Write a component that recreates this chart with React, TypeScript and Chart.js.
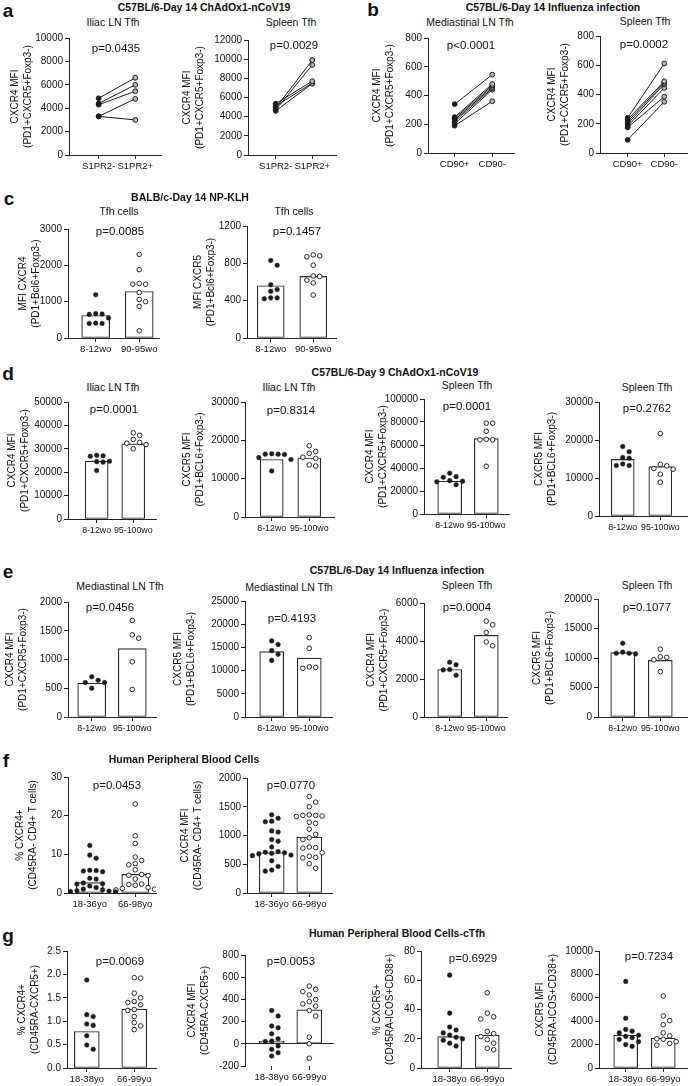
import React, { useEffect, useRef } from 'react';
import { Chart, registerables } from 'chart.js';

Chart.register(...registerables);

const FONT = '"Liberation Sans", Arial, Helvetica, sans-serif';

// ---------------- DATA ----------------
// a: C57BL/6 Day 14 ChAdOx1-nCoV19 (paired)
const s1prCats = ['S1PR2-', 'S1PR2+'];
const a1Neg = [4850, 4400, 4300, 3300, 3300];
const a1Pos = [6600, 6000, 5450, 4800, 3000];
const a2Neg = [4900, 4700, 5350, 5100, 4600];
const a2Pos = [9900, 9400, 7700, 7500, 7450];

// b: Influenza (paired)
const cd90Cats = ['CD90+', 'CD90-'];
const b1Pos = [340, 250, 240, 230, 220, 205, 190];
const b1Neg = [545, 480, 470, 460, 450, 440, 360];
const b2Pos = [240, 230, 215, 200, 185, 175, 90];
const b2Neg = [612, 490, 480, 470, 445, 385, 350];

// c: BALB/c NP-KLH
const cCats = ['8-12wo', '90-95wo'];
const c1Young = [1190, 670, 660, 650, 550, 410, 400, 400];
const c1Old = [2300, 1880, 1500, 1480, 1480, 1250, 1060, 1000, 870, 200];
const c1Bars = [620, 1280];
const c2Young = [830, 780, 570, 520, 500, 430, 430, 420];
const c2Old = [890, 870, 880, 780, 665, 660, 620, 590, 460];
const c2Bars = [560, 660];

// d: Day 9 ChAdOx1-nCoV19
const dCats = ['8-12wo', '95-100wo'];
const d1Young = [27200, 26800, 27000, 24700, 24300, 24500, 20700];
const d1Old = [36800, 35800, 34000, 32700, 32400, 31800, 30000];
const d1Bars = [24700, 32100];
const d2Young = [16500, 16400, 16300, 16400, 15500, 15000, 12000];
const d2Old = [18600, 17100, 16600, 15600, 15300, 13600, 13300];
const d2Bars = [15000, 15400];
const d3Young = [35500, 32500, 32000, 29000, 28500, 28000, 25500];
const d3Old = [79000, 79000, 72000, 65000, 64500, 64500, 41500];
const d3Bars = [28500, 65500];
const d4Young = [18300, 16900, 15400, 15200, 13700, 13300, 13300];
const d4Old = [21700, 13600, 13200, 12500, 12300, 11000, 8900];
const d4Bars = [14900, 13000];

// e: Day 14 Influenza
const e1Young = [700, 640, 600, 600, 500];
const e1Old = [1680, 1430, 1370, 960, 480];
const e1Bars = [590, 1190];
const e2Young = [16400, 15600, 14300, 13500, 12200];
const e2Old = [17100, 14800, 10800, 10500, 10700];
const e2Bars = [14100, 12700];
const e3Young = [2880, 2750, 2500, 2480, 2200];
const e3Old = [5050, 4850, 4450, 3950, 3750];
const e3Bars = [2500, 4300];
const e4Young = [12500, 11000, 10800, 10700, 10800];
const e4Old = [11500, 10200, 10100, 9700, 7700];
const e4Bars = [10900, 9600];

// f: Human peripheral blood
const fCats = ['18-36yo', '66-98yo'];
const f1Young = [12.3, 9.8, 9.0, 5.9, 5.8, 5.7, 5.5, 3.8, 3.6, 2.6, 2.4, 2.3, 1.8, 1.4, 1.0, 0.8, 0.6, 0.5, 0.4, 0.3];
const f1Old = [23, 14.8, 12.8, 9.3, 8.4, 7.6, 7.3, 6.0, 4.8, 4.6, 4.5, 3.6, 2.3, 2.2, 2.0, 1.4, 1.2, 1.0, 0.8];
const f1Bars = [2.7, 4.8];
const f2Young = [1360, 1300, 1250, 1240, 1080, 1060, 930, 900, 800, 720, 710, 700, 690, 680, 660, 650, 560, 460, 400, 380];
const f2Old = [1680, 1580, 1500, 1360, 1350, 1350, 1340, 1330, 1230, 1210, 1110, 1020, 960, 930, 800, 790, 780, 700, 640, 620, 610, 510, 430];
const f2Bars = [700, 970];

// g: Human peripheral blood cTfh
const gCats = ['18-38yo', '66-99yo'];
const g1Young = [1.88, 1.14, 1.10, 0.94, 0.91, 0.69, 0.49, 0.40];
const g1Old = [1.93, 1.92, 1.60, 1.50, 1.42, 1.40, 1.35, 1.25, 1.23, 1.10, 0.97, 0.90, 0.82];
const g1Bars = [0.78, 1.26];
const g2Young = [300, 250, 160, 145, 90, 45, 25, 20, -20, -50, -80, -110];
const g2Old = [520, 490, 470, 440, 400, 380, 360, 340, 300, 250, 60, 0, -130];
const g2Bars = [25, 305];
const g3Young = [63.5, 37.5, 28, 26, 24, 22.5, 21, 20, 19, 17, 15];
const g3Old = [51.5, 37.5, 35, 33.5, 25, 23.5, 21.5, 19.5, 17, 13.5, 12.5];
const g3Bars = [21.5, 22.5];
const g4Young = [7400, 4250, 3300, 3150, 3000, 2800, 2700, 2600, 2450, 2250, 2000, 1850];
const g4Old = [6150, 4450, 4050, 3700, 3000, 2750, 2500, 2450, 2250, 2100, 1950];
const g4Bars = [2800, 2550];

// ---------------- LAYOUT ----------------
type Geo = { axisL: number; axisR: number; yTop: number; yBot: number; cat0: number; cat1: number; titleX: number };
type Spec = {
  geo: Geo;
  yMin: number; yMax: number; yStep: number; dec?: number;
  yTitle: string[];
  cats: string[];
  catSize?: number;
  left: number[]; right: number[];
  bars?: number[];
  barW?: number;
  zero?: boolean;
  p: string; px: number; py: number;
};

const T_CXCR4 = ['CXCR4 MFI', '(PD1+CXCR5+Foxp3-)'];
const T_CXCR5 = ['CXCR5 MFI', '(PD1+BCL6+Foxp3-)'];

const specs: Spec[] = [
  { geo: { axisL: 69, axisR: 162, yTop: 38, yBot: 155, cat0: 99, cat1: 136, titleX: 15 }, yMin: 0, yMax: 10000, yStep: 2000, yTitle: T_CXCR4, cats: s1prCats, left: a1Neg, right: a1Pos, p: 'p=0.0435', px: 116, py: 49 },
  { geo: { axisL: 248, axisR: 337, yTop: 40, yBot: 155, cat0: 276, cat1: 313, titleX: 187 }, yMin: 0, yMax: 12000, yStep: 2000, yTitle: T_CXCR4, cats: s1prCats, left: a2Neg, right: a2Pos, p: 'p=0.0029', px: 294, py: 46 },
  { geo: { axisL: 428, axisR: 515, yTop: 38, yBot: 153, cat0: 455, cat1: 493, titleX: 377 }, yMin: 0, yMax: 800, yStep: 200, yTitle: T_CXCR4, cats: cd90Cats, left: b1Pos, right: b1Neg, p: 'p<0.0001', px: 471, py: 46 },
  { geo: { axisL: 600, axisR: 688, yTop: 36, yBot: 153, cat0: 628, cat1: 665, titleX: 552 }, yMin: 0, yMax: 800, yStep: 200, yTitle: T_CXCR4, cats: cd90Cats, left: b2Pos, right: b2Neg, p: 'p=0.0002', px: 644, py: 45 },

  { geo: { axisL: 68, axisR: 160, yTop: 229, yBot: 338, cat0: 96, cat1: 140, titleX: 23 }, yMin: 0, yMax: 3000, yStep: 1000, yTitle: ['MFI CXCR4', '(PD1+Bcl6+Foxp3-)'], cats: cCats, left: c1Young, right: c1Old, bars: c1Bars, barW: 28, p: 'p=0.0085', px: 120, py: 232 },
  { geo: { axisL: 247, axisR: 337, yTop: 226, yBot: 338, cat0: 271, cat1: 314, titleX: 198 }, yMin: 0, yMax: 1200, yStep: 400, yTitle: ['MFI CXCR5', '(PD1+Bcl6+Foxp3-)'], cats: cCats, left: c2Young, right: c2Old, bars: c2Bars, barW: 27, p: 'p=0.1457', px: 297, py: 232 },

  { geo: { axisL: 68, axisR: 157, yTop: 402, yBot: 519, cat0: 97, cat1: 134, titleX: 12 }, yMin: 0, yMax: 50000, yStep: 10000, yTitle: T_CXCR4, cats: dCats, catSize: 8.8, left: d1Young, right: d1Old, bars: d1Bars, barW: 23, p: 'p=0.0001', px: 114, py: 410 },
  { geo: { axisL: 245, axisR: 335, yTop: 402, yBot: 517, cat0: 272, cat1: 310, titleX: 187 }, yMin: 0, yMax: 30000, yStep: 10000, yTitle: T_CXCR5, cats: dCats, catSize: 8.8, left: d2Young, right: d2Old, bars: d2Bars, barW: 23, p: 'p=0.8314', px: 291, py: 411 },
  { geo: { axisL: 424, axisR: 510, yTop: 399, yBot: 514, cat0: 450, cat1: 487, titleX: 370 }, yMin: 0, yMax: 100000, yStep: 20000, yTitle: T_CXCR4, cats: dCats, catSize: 8.8, left: d3Young, right: d3Old, bars: d3Bars, barW: 24, p: 'p=0.0001', px: 467, py: 407 },
  { geo: { axisL: 599, axisR: 688, yTop: 402, yBot: 516, cat0: 623, cat1: 661, titleX: 539 }, yMin: 0, yMax: 30000, yStep: 10000, yTitle: T_CXCR5, cats: dCats, catSize: 8.8, left: d4Young, right: d4Old, bars: d4Bars, barW: 23, p: 'p=0.2762', px: 647, py: 409 },

  { geo: { axisL: 68, axisR: 157, yTop: 602, yBot: 717, cat0: 92, cat1: 133, titleX: 10 }, yMin: 0, yMax: 2000, yStep: 500, yTitle: T_CXCR4, cats: dCats, catSize: 8.8, left: e1Young, right: e1Old, bars: e1Bars, barW: 28, p: 'p=0.0456', px: 110, py: 608 },
  { geo: { axisL: 245, axisR: 333, yTop: 601, yBot: 717, cat0: 272, cat1: 310, titleX: 178 }, yMin: 0, yMax: 25000, yStep: 5000, yTitle: T_CXCR5, cats: dCats, catSize: 8.8, left: e2Young, right: e2Old, bars: e2Bars, barW: 24, p: 'p=0.4193', px: 292, py: 619 },
  { geo: { axisL: 424, axisR: 508, yTop: 603, yBot: 717, cat0: 450, cat1: 487, titleX: 371 }, yMin: 0, yMax: 6000, yStep: 2000, yTitle: T_CXCR4, cats: dCats, catSize: 8.8, left: e3Young, right: e3Old, bars: e3Bars, barW: 24, p: 'p=0.0004', px: 467, py: 608 },
  { geo: { axisL: 598, axisR: 688, yTop: 599, yBot: 717, cat0: 623, cat1: 661, titleX: 537 }, yMin: 0, yMax: 20000, yStep: 5000, yTitle: T_CXCR5, cats: dCats, catSize: 8.8, left: e4Young, right: e4Old, bars: e4Bars, barW: 24, p: 'p=0.1077', px: 647, py: 608 },

  { geo: { axisL: 68, axisR: 157, yTop: 777, yBot: 893, cat0: 90, cat1: 136, titleX: 20 }, yMin: 0, yMax: 30, yStep: 10, yTitle: ['% CXCR4+', '(CD45RA- CD4+ T cells)'], cats: fCats, left: f1Young, right: f1Old, bars: f1Bars, barW: 27, p: 'p=0.0453', px: 117, py: 786 },
  { geo: { axisL: 247, axisR: 333, yTop: 778, yBot: 893, cat0: 272, cat1: 310, titleX: 185 }, yMin: 0, yMax: 2000, yStep: 500, yTitle: ['CXCR4 MFI', '(CD45RA- CD4+ T cells)'], cats: fCats, left: f2Young, right: f2Old, bars: f2Bars, barW: 25, p: 'p=0.0770', px: 291, py: 786 },

  { geo: { axisL: 67, axisR: 157, yTop: 951, yBot: 1068, cat0: 87, cat1: 135, titleX: 22 }, yMin: 0, yMax: 2.5, yStep: 0.5, dec: 1, yTitle: ['% CXCR4+', '(CD45RA-CXCR5+)'], cats: gCats, left: g1Young, right: g1Old, bars: g1Bars, barW: 25, p: 'p=0.0069', px: 120, py: 962 },
  { geo: { axisL: 245, axisR: 335, yTop: 955, yBot: 1066, cat0: 272, cat1: 310, titleX: 192 }, yMin: -200, yMax: 800, yStep: 200, zero: true, yTitle: ['CXCR4 MFI', '(CD45RA-CXCR5+)'], cats: gCats, left: g2Young, right: g2Old, bars: g2Bars, barW: 25, p: 'p=0.0053', px: 291, py: 962 },
  { geo: { axisL: 421, axisR: 512, yTop: 951, yBot: 1068, cat0: 450, cat1: 488, titleX: 377 }, yMin: 0, yMax: 80, yStep: 20, yTitle: ['% CXCR5+', '(CD45RA-ICOS+CD38+)'], cats: gCats, left: g3Young, right: g3Old, bars: g3Bars, barW: 24, p: 'p=0.6929', px: 473, py: 959 },
  { geo: { axisL: 599, axisR: 688, yTop: 951, yBot: 1068, cat0: 626, cat1: 664, titleX: 540 }, yMin: 0, yMax: 10000, yStep: 2000, yTitle: ['CXCR5 MFI', '(CD45RA-ICOS+CD38+)'], cats: gCats, left: g4Young, right: g4Old, bars: g4Bars, barW: 24, p: 'p=0.7234', px: 649, py: 957 },
];

const letters: [string, number, number][] = [
  ['a', 8, 10], ['b', 373, 9], ['c', 9, 198], ['d', 8, 373], ['e', 8, 571], ['f', 6, 760], ['g', 8, 935],
];
const panelTitles: [string, number, number][] = [
  ['C57BL/6-Day 14 ChAdOx1-nCoV19', 204, 7],
  ['C57BL/6-Day 14 Influenza infection', 553, 7],
  ['BALB/c-Day 14 NP-KLH', 190, 197],
  ['C57BL/6-Day 9 ChAdOx1-nCoV19', 395, 372],
  ['C57BL/6-Day 14 Influenza infection', 397, 570],
  ['Human Peripheral Blood Cells', 184, 759],
  ['Human Peripheral Blood Cells-cTfh', 397, 933],
];
const subTitles: [string, number, number][] = [
  ['Iliac LN Tfh', 113, 22], ['Spleen Tfh', 291, 22], ['Mediastinal LN Tfh', 470, 22], ['Spleen Tfh', 645, 21],
  ['Tfh cells', 119, 211], ['Tfh cells', 294, 211],
  ['Iliac LN Tfh', 113, 387], ['Iliac LN Tfh', 289, 387], ['Spleen Tfh', 467, 385], ['Spleen Tfh', 647, 387],
  ['Mediastinal LN Tfh', 120, 586], ['Mediastinal LN Tfh', 289, 587], ['Spleen Tfh', 467, 585], ['Spleen Tfh', 647, 585],
];

// Beeswarm-style horizontal offsets (px) so dots of similar value do not overlap
function swarm(vals: number[], pxPerUnit: number, step: number, minDist: number): number[] {
  const order = vals.map((_, i) => i).sort((a, b) => vals[b] - vals[a]);
  const placed: { x: number; y: number }[] = [];
  const out = new Array(vals.length).fill(0);
  for (const i of order) {
    const y = vals[i] * pxPerUnit;
    for (let k = 0; k < 60; k++) {
      const off = k === 0 ? 0 : (k % 2 ? 1 : -1) * Math.ceil(k / 2) * step;
      if (placed.every((p) => Math.hypot(p.x - off, p.y - y) >= minDist)) {
        out[i] = off;
        placed.push({ x: off, y });
        break;
      }
    }
  }
  return out;
}

const INK = '#1c1c1c';
const TITLE_LH = 12.5;

function Plot({ s }: { s: Spec }) {
  const ref = useRef<HTMLCanvasElement | null>(null);
  const g = s.geo;
  const padTop = 8;
  const padRight = 4;
  const xH = 22;
  const cLeft = Math.round(g.titleX - TITLE_LH / 2);
  const cTop = Math.round(g.yTop) - padTop;
  const width = Math.round(g.axisR) + padRight - cLeft;
  const height = Math.round(g.yBot) + xH - cTop;
  const yW = Math.round(g.axisL) - cLeft;

  useEffect(() => {
    const canvas = ref.current;
    if (!canvas) return;
    const unit = g.cat1 - g.cat0;
    const xMin = -(g.cat0 - g.axisL) / unit;
    const xMax = 1 + (g.axisR - g.cat1) / unit;
    const pxPerY = (g.yBot - g.yTop) / (s.yMax - s.yMin);
    const datasets: any[] = [];
    if (s.bars) {
      const offL = swarm(s.left, pxPerY, 6.5, 6);
      const offR = swarm(s.right, pxPerY, 6.5, 6);
      datasets.push({
        type: 'scatter', order: 1,
        data: s.left.map((v, i) => ({ x: offL[i] / unit, y: v })),
        pointRadius: 2.3, pointBackgroundColor: INK, pointBorderColor: INK, pointBorderWidth: 0.5,
      });
      datasets.push({
        type: 'scatter', order: 1,
        data: s.right.map((v, i) => ({ x: 1 + offR[i] / unit, y: v })),
        pointRadius: 2.3, pointBackgroundColor: '#ffffff', pointBorderColor: '#2a2a2a', pointBorderWidth: 1,
      });
      datasets.push({
        type: 'bar', order: 5,
        data: [{ x: 0, y: s.bars[0] }, { x: 1, y: s.bars[1] }],
        barThickness: s.barW, backgroundColor: '#ffffff', borderColor: '#2a2a2a', borderWidth: 1.2, borderSkipped: false,
      });
    } else {
      s.left.forEach((l, i) => {
        datasets.push({
          type: 'line',
          data: [{ x: 0, y: l }, { x: 1, y: s.right[i] }],
          borderColor: INK, borderWidth: 1,
          pointRadius: 2.4,
          pointBackgroundColor: [INK, '#b5b5b5'],
          pointBorderColor: INK, pointBorderWidth: 1,
        });
      });
    }

    const chart = new Chart(canvas, {
      type: 'scatter',
      data: { datasets },
      options: {
        animation: false,
        responsive: false,
        events: [],
        layout: { padding: { top: padTop, right: padRight, left: 0, bottom: 0 } },
        plugins: { legend: { display: false }, tooltip: { enabled: false }, title: { display: false } },
        scales: {
          x: {
            type: 'linear', min: xMin, max: xMax, offset: false,
            afterBuildTicks: (sc: any) => { sc.ticks = [{ value: 0 }, { value: 1 }]; },
            afterFit: (sc: any) => { sc.height = xH; },
            ticks: {
              callback: (v: any) => s.cats[v] ?? '',
              font: { family: FONT, size: s.catSize ?? 9.5 }, color: '#111', padding: 2, maxRotation: 0, autoSkip: false,
            },
            grid: { display: true, offset: false, drawOnChartArea: false, drawTicks: true, tickLength: 4, color: '#222', lineWidth: 1 },
            border: { display: !s.zero, color: '#222', width: 1 },
          },
          y: {
            type: 'linear', min: s.yMin, max: s.yMax, offset: false,
            afterFit: (sc: any) => { sc.width = yW; },
            ticks: {
              stepSize: s.yStep,
              callback: (v: any) => (s.dec ? Number(v).toFixed(s.dec) : String(Math.round(Number(v)))),
              font: { family: FONT, size: 10 }, color: '#111', padding: 2,
            },
            grid: {
              display: true,
              offset: false,
              drawOnChartArea: !!s.zero,
              drawTicks: true, tickLength: 4,
              color: (ctx: any) => (ctx.tick && ctx.tick.value === 0 ? '#222' : 'rgba(0,0,0,0)'),
              tickColor: '#222', lineWidth: 1,
            },
            border: { display: true, color: '#222', width: 1 },
            title: {
              display: true, text: s.yTitle,
              font: { family: FONT, size: 10, lineHeight: TITLE_LH / 10 }, color: '#111', padding: 0,
            },
          },
        },
      } as any,
    } as any);
    return () => chart.destroy();
  }, []);

  return (
    <canvas
      ref={ref}
      width={width}
      height={height}
      style={{ position: 'absolute', left: cLeft, top: cTop, width, height }}
    />
  );
}

function Label({ text, x, y, size, bold }: { text: string; x: number; y: number; size: number; bold?: boolean }) {
  return (
    <div
      style={{
        position: 'absolute', left: x, top: y, transform: 'translate(-50%, -50%)',
        whiteSpace: 'nowrap', fontFamily: FONT, fontSize: size, fontWeight: bold ? 700 : 400,
        color: '#111', lineHeight: 1,
      }}
    >
      {text}
    </div>
  );
}

export default function App() {
  return (
    <div style={{ position: 'absolute', left: 0, top: 0, width: 691, height: 1086, background: '#fff', overflow: 'hidden' }}>
      {specs.map((s, i) => <Plot key={i} s={s} />)}
      {specs.map((s, i) => <Label key={'p' + i} text={s.p} x={s.px} y={s.py} size={11.5} />)}
      {letters.map(([t, x, y], i) => <Label key={'l' + i} text={t} x={x} y={y} size={19} bold />)}
      {panelTitles.map(([t, x, y], i) => <Label key={'t' + i} text={t} x={x} y={y} size={10.5} bold />)}
      {subTitles.map(([t, x, y], i) => <Label key={'s' + i} text={t} x={x} y={y} size={10.5} />)}
    </div>
  );
}
